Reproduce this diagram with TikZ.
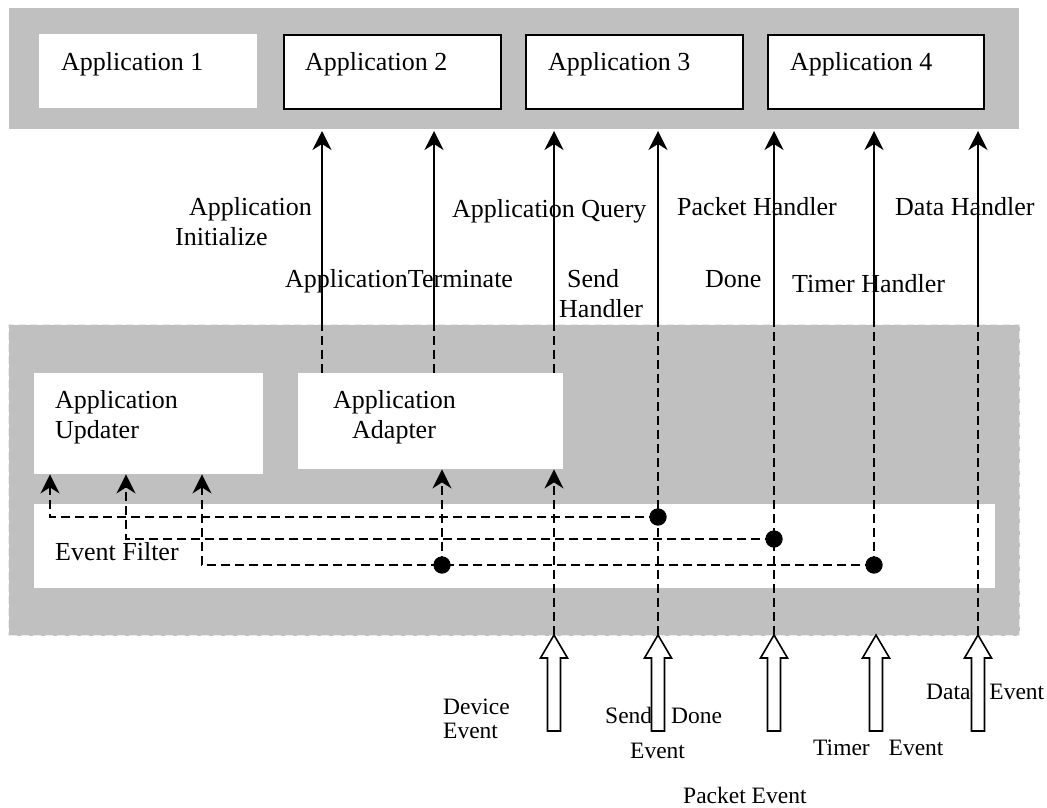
\documentclass[tikz,border=0pt]{standalone}
\usepackage{fontspec}
\setmainfont{Liberation Serif}
\usetikzlibrary{arrows.meta}
\definecolor{bandgray}{RGB}{192,192,192}
\begin{document}
\begin{tikzpicture}[x=1pt,y=-1pt,
  band/.style={fill=bandgray, inner sep=0, anchor=north west},
  whitebox/.style={fill=white, draw=none, inner sep=0, anchor=north west},
  appbox/.style={fill=white, draw=black, line width=1.6pt, inner sep=0, anchor=north west},
  lbl/.style={inner sep=0, anchor=base west, font=\fontsize{26}{30}\selectfont, align=left},
  evlbl/.style={inner sep=0, anchor=base west, font=\fontsize{23.5}{27}\selectfont, align=left},
  tip/.style={-{Stealth[length=19pt,width=19pt,inset=6pt]}},
  flow/.style={line width=1.6pt, tip},
  dline/.style={line width=1.6pt, dash pattern=on 9pt off 5pt},
  dflow/.style={dline, tip},
  dot/.style={circle, fill=black, inner sep=0, minimum size=17pt},
  hollow/.style={draw=black, fill=white, line width=1.6pt, line join=miter},
]
\useasboundingbox (0,0) rectangle (1047,807);

% bands
\node[band, minimum width=1010pt, minimum height=121pt] (topband) at (9,8) {};
\node[band, draw=white!70!bandgray, dash pattern=on 8pt off 4pt, line width=1pt,
      minimum width=1011pt, minimum height=311pt] (lowband) at (8,324) {};

% applications
\node[whitebox, minimum width=218pt, minimum height=74pt,
      label={[lbl, xshift=22pt, yshift=-36pt]north west:Application 1}] (app1) at (39,34) {};
\node[appbox, minimum width=217pt, minimum height=74pt,
      label={[lbl, xshift=22pt, yshift=-36pt]north west:Application 2}] (app2) at (283,34) {};
\node[appbox, minimum width=217pt, minimum height=74pt,
      label={[lbl, xshift=23pt, yshift=-36pt]north west:Application 3}] (app3) at (525,34) {};
\node[appbox, minimum width=216pt, minimum height=74pt,
      label={[lbl, xshift=23pt, yshift=-36pt]north west:Application 4}] (app4) at (767,34) {};

% inner boxes
\node[whitebox, minimum width=229pt, minimum height=101pt,
      label={[lbl, xshift=21pt, yshift=-65pt]north west:Application\\Updater}] (updater) at (34,373) {};
\node[whitebox, minimum width=265pt, minimum height=96pt,
      label={[lbl, xshift=35pt, yshift=-65pt]north west:Application\\\hspace*{19pt}Adapter}] (adapter) at (298,373) {};
\node[whitebox, minimum width=961pt, minimum height=84pt,
      label={[lbl, xshift=21pt, yshift=-56pt]north west:Event Filter}] (filter) at (34,504) {};

% event arrows (hollow block arrows)
\foreach \n/\x in {1/554,2/658,3/774,4/876,5/978}{
  \draw[hollow] (\x,635) -- (\x+13.5,658) -- (\x+6.5,658) -- (\x+6.5,731)
        -- (\x-6.5,731) -- (\x-6.5,658) -- (\x-13.5,658) -- cycle;
  \coordinate (ev\n) at (\x,635);
}

% column coordinates
\foreach \i/\x in {1/322,2/434,3/554,4/658,5/774,6/874,7/978}{
  \coordinate (t\i) at (\x,131);
  \coordinate (m\i) at (\x,324);
}

% junction dots and corners
\node[dot] (d1) at (658,517) {};
\node[dot] (d2) at (774,539) {};
\node[dot] (d3) at (874,565) {};
\node[dot] (dA) at (442,565) {};
\coordinate (u1) at (50,517);
\coordinate (u2) at (126,539);
\coordinate (u3) at (202,565);

% upward calls to applications
\foreach \i in {1,2,3}{
  \draw[dline] (adapter.north -| m\i) -- (m\i);
}
\draw[dline] (ev2) -- (m4);
\draw[dline] (ev3) -- (m5);
\draw[dline] (d3.center) -- (m6);
\draw[dline] (ev5) -- (m7);
\foreach \i in {1,...,7}{
  \draw[flow] (m\i) -- (t\i);
}

% events into the adapter
\draw[dflow] (ev1) -- (adapter.south -| ev1);
\draw[dflow] (dA.center) -- (adapter.south -| dA);

% filter lines to updater
\draw[dflow] (d1.center) -- (u1) -- (updater.south -| u1);
\draw[dflow] (d2.center) -- (u2) -- (updater.south -| u2);
\draw[dflow] (d3.center) -- (u3) -- (updater.south -| u3);
\node[dot] at (d1) {};
\node[dot] at (d2) {};
\node[dot] at (d3) {};
\node[dot] at (dA) {};

% upper labels
\node[lbl] (lInit) at (175,245) {\hspace*{14pt}Application\\Initialize};
\node[lbl] (lQuery) at (452,217) {Application Query};
\node[lbl] (lPacket) at (677,215) {Packet Handler};
\node[lbl] (lData) at (895,215) {Data Handler};
\node[lbl] (lTerm) at (285,287) {ApplicationTerminate};
\node[lbl] (lSend) at (559,317) {\hspace*{8pt}Send\\Handler};
\node[lbl] (lDone) at (705,287) {Done};
\node[lbl] (lTimer) at (792,292) {Timer Handler};

% lower labels
\node[evlbl] (eDev) at (443,738) {Device\\[-3pt]Event};
\node[evlbl] (eSend) at (605,723) {Send\hspace{13pt} Done};
\node[evlbl] (eSendEv) at (630,758) {Event};
\node[evlbl] (ePacket) at (683,803) {Packet Event};
\node[evlbl] (eTimer) at (813,755) {Timer\hspace{13pt} Event};
\node[evlbl] (eData) at (926,699) {Data\hspace{13pt} Event};
\end{tikzpicture}
\end{document}
